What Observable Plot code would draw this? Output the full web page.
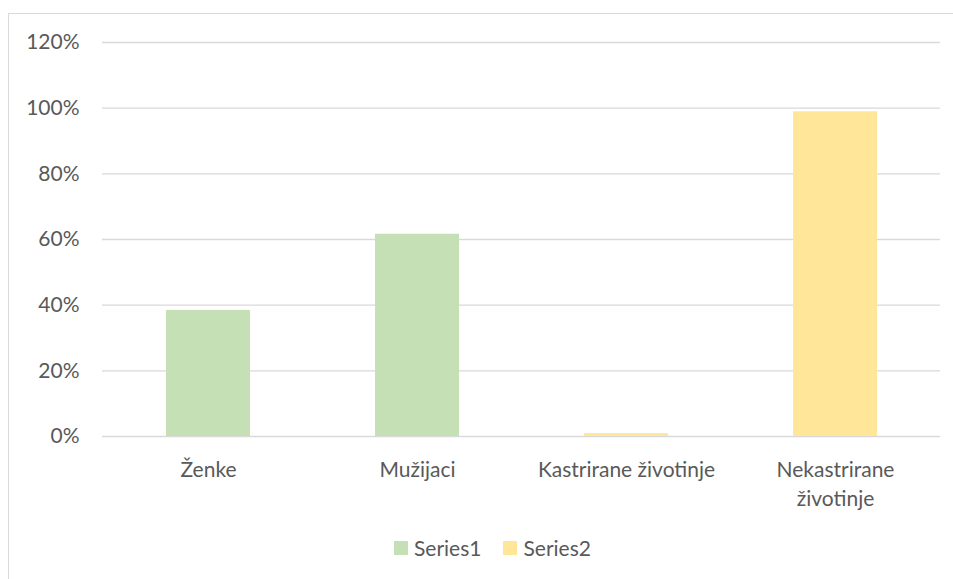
<!DOCTYPE html>
<html>
<head>
<meta charset="utf-8">
<script src="https://cdn.jsdelivr.net/npm/d3@7"></script>
<script src="https://cdn.jsdelivr.net/npm/@observablehq/plot@0.6"></script>
<style>
  html, body { margin: 0; padding: 0; background: #fff; }
  body { width: 953px; height: 579px; position: relative; overflow: hidden; font-family: Lato, "Open Sans", sans-serif; }
  #frame { position: absolute; left: 8px; top: 13px; width: 960px; height: 600px; border: 1px solid #d9d9d9; box-sizing: border-box; }
  #chart { position: absolute; left: 0; top: 0; }
  #legend { position: absolute; top: 535px; left: 394px; display: flex; align-items: center; font-size: 21px; color: #595959; }
  .sw { display: inline-block; width: 14px; height: 14px; margin-right: 6px; }
  .item { display: flex; align-items: center; margin-right: 22px; }
</style>
</head>
<body>
<div id="frame"></div>
<div id="chart"></div>
<div id="legend"></div>
<script>
const categories = ["Ženke", "Mužijaci", "Kastrirane životinje", "Nekastrirane životinje"];
const tickLabels = ["Ženke", "Mužijaci", "Kastrirane životinje", "Nekastrirane\nživotinje"];
const series = ["Series1", "Series1", "Series2", "Series2"];
const values = [0.384, 0.616, 0.009, 0.989];
const seriesNames = ["Series1", "Series2"];
const seriesColors = ["#C5E0B4", "#FFE699"];
const yTicks = [0, 0.2, 0.4, 0.6, 0.8, 1.0, 1.2];

const data = categories.map((c, i) => ({category: c, series: series[i], value: values[i]}));
const labelOf = new Map(categories.map((c, i) => [c, tickLabels[i]]));

const plot = Plot.plot({
  width: 953,
  height: 530,
  marginLeft: 102,
  marginRight: 13,
  marginTop: 42,
  marginBottom: 94,
  style: {fontFamily: "Lato, 'Open Sans', sans-serif", fontSize: "21px", color: "#595959", background: "transparent"},
  x: {domain: categories, paddingInner: 0.6, paddingOuter: 0.3, label: null},
  y: {domain: [0, 1.2], label: null},
  color: {domain: seriesNames, range: seriesColors},
  marks: [
    Plot.gridY(yTicks, {stroke: "#d9d9d9", strokeOpacity: 1, strokeWidth: 1.3}),
    Plot.barY(data, {x: "category", y: "value", fill: "series"}),
    Plot.axisY({ticks: yTicks, tickSize: 0, tickPadding: 23, tickFormat: d => Math.round(d * 100) + "%", fill: "#595959"}),
    Plot.axisX({tickSize: 0, tickPadding: 20, tickFormat: d => labelOf.get(d), lineHeight: 1.38, fill: "#595959"})
  ]
});
document.getElementById("chart").appendChild(plot);

const legend = document.getElementById("legend");
seriesNames.forEach((s, i) => {
  const item = document.createElement("div");
  item.className = "item";
  const sw = document.createElement("span");
  sw.className = "sw";
  sw.style.background = seriesColors[i];
  item.appendChild(sw);
  item.appendChild(document.createTextNode(s));
  legend.appendChild(item);
});
</script>
</body>
</html>
